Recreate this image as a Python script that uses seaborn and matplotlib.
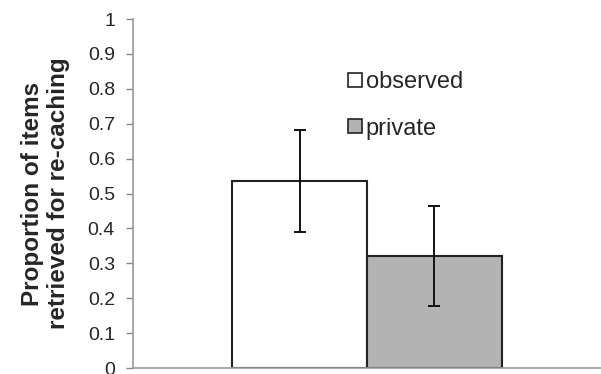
import pandas as pd
import matplotlib.pyplot as plt
import seaborn as sns
from matplotlib.patches import Patch

# values
conditions = ['observed', 'private']
means = [0.537, 0.322]
err_upper = [0.682, 0.465]
err_lower = [0.390, 0.178]
y_ticks = [0, 0.1, 0.2, 0.3, 0.4, 0.5, 0.6, 0.7, 0.8, 0.9, 1]
colors = ['#ffffff', '#b3b3b3']

sns.set_style('white')
plt.rcParams['font.family'] = ['Liberation Sans', 'DejaVu Sans']

df = pd.DataFrame({'group': ['all', 'all'], 'condition': conditions, 'value': means})

fig = plt.figure(figsize=(6.01, 3.74), dpi=100)
ax = fig.add_axes([0.2213, 0.016, 0.7787, 0.933])

sns.barplot(data=df, x='group', y='value', hue='condition', palette=colors,
            width=0.575, edgecolor='#222222', linewidth=1.5, errorbar=None,
            legend=False, ax=ax)

# error bars centred on the drawn bars
for patch, m, lo, hi in zip(ax.patches, means, err_lower, err_upper):
    cx = patch.get_x() + patch.get_width() / 2
    ax.errorbar(cx, m, yerr=[[m - lo], [hi - m]], fmt='none', ecolor='#111111',
                elinewidth=1.4, capsize=4.5, capthick=1.4)

ax.set_ylim(0, 1)
ax.set_xlim(-0.5, 0.5)
ax.set_yticks(y_ticks)
ax.set_yticklabels([f'{t:g}' for t in y_ticks], fontsize=14)
ax.set_xticks([])
ax.set_xlabel('')
ax.set_ylabel('Proportion of items\nretrieved for re-caching', fontsize=17.5,
              fontweight='bold', labelpad=13, linespacing=1.12)
ax.tick_params(axis='y', direction='out', length=5, width=1, color='#888888',
               left=True, pad=8)

for side in ['top', 'right']:
    ax.spines[side].set_visible(False)
for side in ['left', 'bottom']:
    ax.spines[side].set_color('#999999')
    ax.spines[side].set_linewidth(1.2)

handles = [Patch(facecolor=c, edgecolor='#222222', linewidth=1.2) for c in colors]
ax.legend(handles, conditions, loc='upper left', bbox_to_anchor=(0.459, 0.851),
          frameon=False, fontsize=17, handlelength=0.6, handleheight=0.55,
          handletextpad=0.15, labelspacing=1.04, borderaxespad=0, borderpad=0)

fig.savefig('out.png', dpi=100)
